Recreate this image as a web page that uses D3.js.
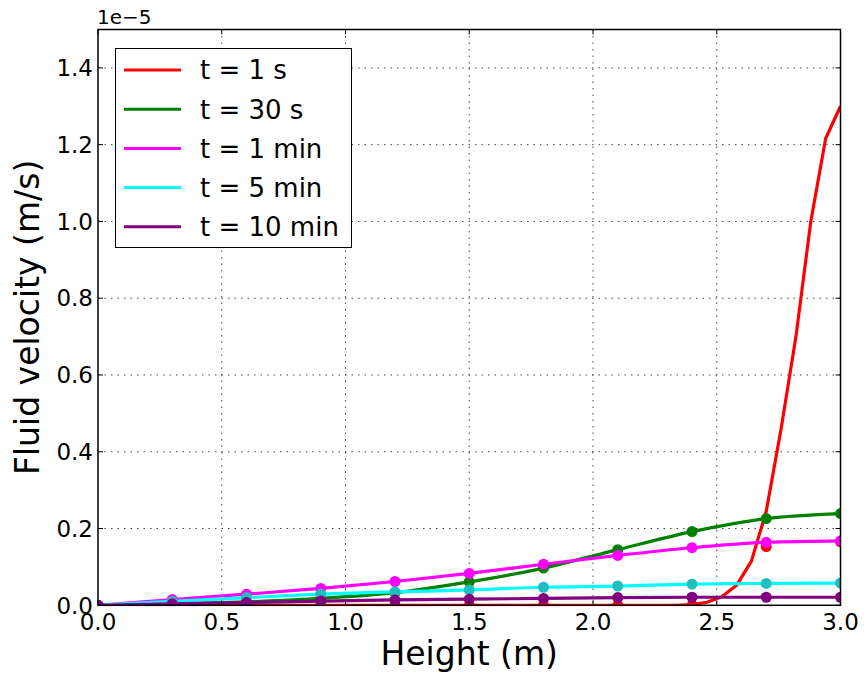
<!DOCTYPE html>
<html>
<head>
<meta charset="utf-8">
<script src="https://cdn.jsdelivr.net/npm/d3@7"></script>
<style>
  html, body { margin: 0; padding: 0; background: #fff; }
  svg { display: block; font-family: "DejaVu Sans", sans-serif; }
</style>
</head>
<body>
<svg id="chart" width="867" height="677"></svg>
<script>
// Velocities are given in units of 1e-5 m/s (shown as the axis offset label).
const seriesLabels = ["t = 1 s", "t = 30 s", "t = 1 min", "t = 5 min", "t = 10 min"];
const lineColors = ["#ff0000", "#008000", "#ff00ff", "#00ffff", "#800080"];
const dotColors  = ["#ff0000", "#008000", "#ff00ff", "#1fbfbf", "#800080"];

// Sample heights of the numerical solution (m)
const dotHeights = [0, 0.3, 0.6, 0.9, 1.2, 1.5, 1.8, 2.1, 2.4, 2.7, 3.0];

// Numerical solution, one array per time
const dots1s   = [0, 0, 0, 0, 0, 0, 0, 0, 0, 0.153, 0.165];
const dots30s  = [0, 0.003, 0.009, 0.018, 0.033, 0.061, 0.097, 0.145, 0.192, 0.226, 0.239];
const dots1min = [0, 0.015, 0.029, 0.044, 0.062, 0.083, 0.107, 0.130, 0.150, 0.164, 0.168];
const dots5min = [0, 0.010, 0.020, 0.029, 0.035, 0.040, 0.047, 0.050, 0.055, 0.057, 0.058];
const dots10min= [0, 0.004, 0.007, 0.011, 0.014, 0.016, 0.018, 0.020, 0.021, 0.021, 0.021];

// Reference curve for t = 1 s (sharp front near the top)
const front1sHeights = [0, 2.34, 2.40, 2.46, 2.52, 2.58, 2.64, 2.70, 2.76, 2.82, 2.88, 2.94, 3.00];
const front1sValues  = [0, 0, 0.002, 0.008, 0.022, 0.052, 0.115, 0.245, 0.46, 0.70, 1.00, 1.216, 1.30];

// Reference curves for the later times, at the sample heights
const curve30s   = dots30s;
const curve1min  = dots1min;
const curve5min  = dots5min;
const curve10min = dots10min;

const xTicks = [0.0, 0.5, 1.0, 1.5, 2.0, 2.5, 3.0];
const yTicks = [0.0, 0.2, 0.4, 0.6, 0.8, 1.0, 1.2, 1.4];

const svg = d3.select("#chart");
const margin = { left: 98, right: 26.5, top: 29.5, bottom: 71.7 };
const W = 867, H = 677;
const plotW = W - margin.left - margin.right;
const plotH = H - margin.top - margin.bottom;

const x = d3.scaleLinear().domain([0, 3]).range([margin.left, margin.left + plotW]);
const y = d3.scaleLinear().domain([0, 1.5]).range([margin.top + plotH, margin.top]);

svg.append("defs").append("clipPath").attr("id", "plotClip")
  .append("rect").attr("x", margin.left).attr("y", margin.top)
  .attr("width", plotW).attr("height", plotH);

// grid
const grid = svg.append("g");
grid.selectAll(".gx").data(xTicks.slice(1, -1)).join("line")
  .attr("x1", d => x(d)).attr("x2", d => x(d))
  .attr("y1", margin.top).attr("y2", margin.top + plotH)
  .attr("stroke", "#444").attr("stroke-width", 1).attr("stroke-dasharray", "1.5,5");
grid.selectAll(".gy").data(yTicks.slice(1)).join("line")
  .attr("y1", d => y(d)).attr("y2", d => y(d))
  .attr("x1", margin.left).attr("x2", margin.left + plotW)
  .attr("stroke", "#444").attr("stroke-width", 1).attr("stroke-dasharray", "1.5,5");

// series
const series = [
  { lineX: front1sHeights, lineY: front1sValues, curve: d3.curveLinear, dots: dots1s },
  { lineX: dotHeights, lineY: curve30s, curve: d3.curveMonotoneX, dots: dots30s },
  { lineX: dotHeights, lineY: curve1min, curve: d3.curveMonotoneX, dots: dots1min },
  { lineX: dotHeights, lineY: curve5min, curve: d3.curveMonotoneX, dots: dots5min },
  { lineX: dotHeights, lineY: curve10min, curve: d3.curveMonotoneX, dots: dots10min }
];

const plot = svg.append("g").attr("clip-path", "url(#plotClip)");
series.forEach((s, i) => {
  const pts = s.lineX.map((h, k) => [h, s.lineY[k]]);
  plot.append("path")
    .attr("d", d3.line().x(d => x(d[0])).y(d => y(d[1])).curve(s.curve)(pts))
    .attr("fill", "none").attr("stroke", lineColors[i]).attr("stroke-width", 3.2)
    .attr("stroke-linejoin", "round");
  plot.append("g").selectAll("circle").data(s.dots).join("circle")
    .attr("cx", (d, k) => x(dotHeights[k])).attr("cy", d => y(d)).attr("r", 5.5)
    .attr("fill", dotColors[i]);
});

// frame
svg.append("rect").attr("x", margin.left).attr("y", margin.top)
  .attr("width", plotW).attr("height", plotH)
  .attr("fill", "none").attr("stroke", "#000").attr("stroke-width", 1.5);

// ticks (inward, on all four sides)
const tk = svg.append("g").attr("stroke", "#000").attr("stroke-width", 1);
xTicks.forEach(v => {
  tk.append("line").attr("x1", x(v)).attr("x2", x(v)).attr("y1", y(0)).attr("y2", y(0) - 5);
  tk.append("line").attr("x1", x(v)).attr("x2", x(v)).attr("y1", y(1.5)).attr("y2", y(1.5) + 5);
});
yTicks.forEach(v => {
  tk.append("line").attr("y1", y(v)).attr("y2", y(v)).attr("x1", x(0)).attr("x2", x(0) + 5);
  tk.append("line").attr("y1", y(v)).attr("y2", y(v)).attr("x1", x(3)).attr("x2", x(3) - 5);
});

// tick labels
const fmt = d3.format(".1f");
svg.append("g").selectAll("text").data(xTicks).join("text")
  .attr("x", d => x(d)).attr("y", 630).attr("text-anchor", "middle")
  .attr("font-size", 23).text(d => fmt(d));
svg.append("g").selectAll("text").data(yTicks).join("text")
  .attr("x", 93).attr("y", d => y(d)).attr("dy", "0.36em").attr("text-anchor", "end")
  .attr("font-size", 23).text(d => fmt(d));

// offset label
svg.append("text").attr("x", 97).attr("y", 24).attr("font-size", 20).text("1e\u22125");

// axis titles
svg.append("text").attr("x", x(1.5)).attr("y", 665).attr("text-anchor", "middle")
  .attr("font-size", 33).text("Height (m)");
svg.append("text").attr("transform", "translate(39," + y(0.75) + ") rotate(-90)")
  .attr("text-anchor", "middle").attr("font-size", 33).text("Fluid velocity (m/s)");

// legend
const lg = svg.append("g");
lg.append("rect").attr("x", 115.5).attr("y", 48.5).attr("width", 236).attr("height", 199)
  .attr("fill", "#fff").attr("stroke", "#000").attr("stroke-width", 1);
seriesLabels.forEach((lab, i) => {
  const ry = 70 + i * 39.2;
  lg.append("line").attr("x1", 124).attr("x2", 181).attr("y1", ry).attr("y2", ry)
    .attr("stroke", lineColors[i]).attr("stroke-width", 3);
  lg.append("text").attr("x", 200).attr("y", ry).attr("dy", "0.36em")
    .attr("font-size", 26).text(lab);
});
</script>
</body>
</html>
